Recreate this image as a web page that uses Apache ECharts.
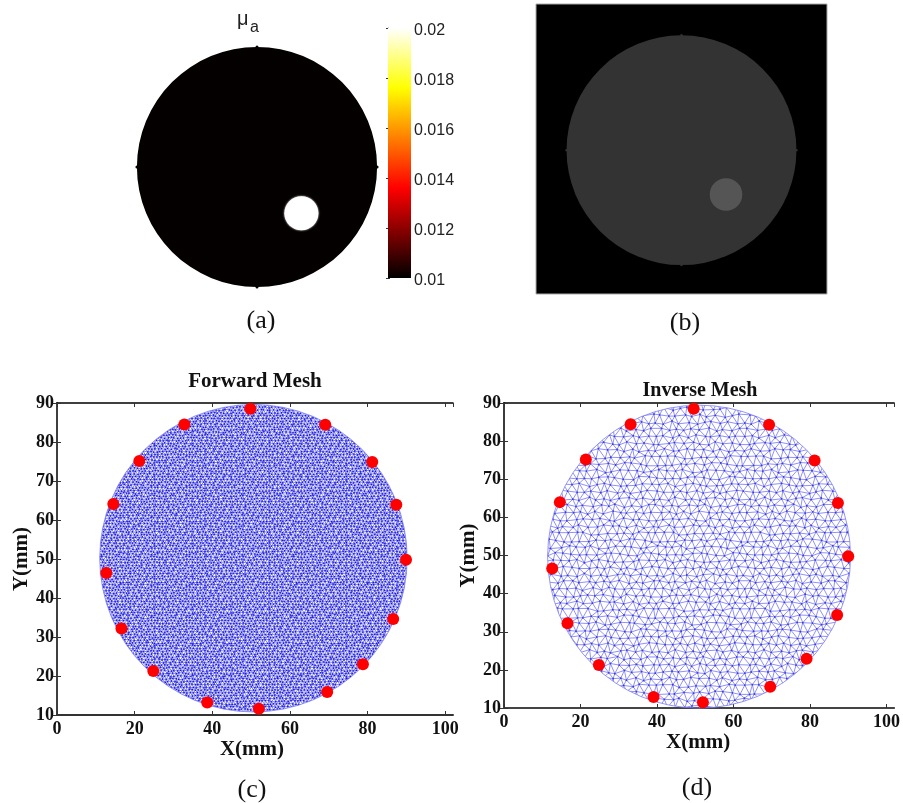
<!DOCTYPE html>
<html><head><meta charset="utf-8">
<style>html,body{margin:0;padding:0;background:#fff}#c{width:903px;height:803px}</style>
<script src="https://cdn.jsdelivr.net/npm/echarts@6/dist/echarts.min.js"></script>
</head><body><div id="c"></div>
<script>
// ---------- values (mm unless noted) ----------
const phantomDisc   = [50, 50, 39.5];     // cx, cy, r
const reconDisc     = [50, 49.6, 39.5];
const inclusionDisc = [64.6, 34.8, 5.6];
const reconInclusion= [65.3, 34.3, 5.6];
const forwardDisc   = [50.6, 50.2, 39.6];
const inverseDisc   = [51, 49.7, 39.6];
const absorption    = [0.01, 0.02];       // background, inclusion (mu_a)
const colorbarTicks = [0.01, 0.02, 0.002]; // min, max, step
const hotStops      = [[0,'#000000'],[0.36,'#ff0000'],[0.76,'#ffff00'],[1,'#ffffff']];
const reconGray     = ['#000000','#333333','#555555']; // frame, disc, inclusion
const sensorsForward = [[49.8,88.5],[69.1,84.4],[81.2,74.9],[87.4,63.9],[89.9,49.8],[86.6,34.6],[78.8,23],[69.6,15.9],[52,11.6],[38.7,13.2],[24.8,21.3],[16.6,32.2],[12.7,46.4],[14.5,64.1],[21.2,75.1],[32.8,84.5]];
const sensorsInverse = [[49.6,88.5],[69.3,84.3],[81.2,74.9],[87.3,63.8],[90,49.8],[87.1,34.4],[79.1,22.9],[69.6,15.6],[52,11.5],[39.1,12.9],[24.8,21.3],[16.6,32.2],[12.6,46.6],[14.6,64],[21.4,75.2],[33.1,84.4]];
const meshAxisX = [0, 102, 20];
const meshAxisY = [10, 90, 10];
const titleTexts = {a:'(a)', b:'(b)', c:'(c)', d:'(d)', fwd:'Forward Mesh', inv:'Inverse Mesh'};

// ---------- mesh look: a decorative fill texture, not measured data ----------
// The individual elements of the meshes cannot be read from the picture, so an
// irregular triangular texture suggests them. Digit tables perturb a lattice.
const jitterA = ['375162840627','618340275193','240786153862','853127604318','162548037265','704836215480','581203746152','326471580734','847015362608','130682457321','765314028176','428750613042'];
const jitterB = ['52617384025','07483162758','36250847116','81704526342','24168053774','65032718460','18745360221','73526014887','40861237503','56213780146','83047651230'];
function meshTexture(step, lineCol, lineW, nodeCol, nodeR, amp, blur){
  const cv = document.createElement('canvas'); cv.width = 903; cv.height = 803;
  const g = cv.getContext('2d');
  if (blur) g.filter = 'blur(' + blur + 'px)';
  const h = step * 0.866, nx = Math.ceil(903/step)+3, ny = Math.ceil(803/h)+3, P = [];
  for (let j=0;j<ny;j++){ P.push([]); for (let i=0;i<nx;i++){
    const a = +jitterA[j%12][i%12]-4, b = +jitterB[(j+5)%11][(i+3)%11]-4;
    P[j].push([(i-1+(j%2)/2)*step + a/4*amp*step, (j-1)*h + b/4*amp*step]);
  }}
  g.strokeStyle = lineCol; g.lineWidth = lineW; g.beginPath();
  const seg=(p,q)=>{g.moveTo(p[0],p[1]);g.lineTo(q[0],q[1]);};
  for (let j=0;j<ny;j++) for (let i=0;i<nx;i++){
    if (i+1<nx) seg(P[j][i],P[j][i+1]);
    if (j+1<ny){ const o=j%2; seg(P[j][i],P[j+1][i]); if(o? i+1<nx : i>0) seg(P[j][i],P[j+1][o?i+1:i-1]); }
  }
  g.stroke();
  g.fillStyle = nodeCol; g.beginPath();
  for (const r of P) for (const p of r){ g.moveTo(p[0]+nodeR,p[1]); g.arc(p[0],p[1],nodeR,0,6.3); }
  g.fill();
  return cv;
}
const fineMesh   = meshTexture(3.2, '#3838e8', 0.65, '#1414cc', 0.65, 0.22, 0.3);
const coarseMesh = meshTexture(8,   '#8484f4', 0.9, '#3a3ae0', 0.9, 0.2, 0.2);

// ---------- layout helpers ----------
const serif='"Liberation Serif"', sans='"Liberation Sans"';
const grids=[], xAxes=[], yAxes=[], series=[];
function addGrid(box, xa, ya){
  grids.push(Object.assign({containLabel:false}, box));
  const g=grids.length-1;
  xa.forEach(a=>{xAxes.push(Object.assign({gridIndex:g},a));});
  ya.forEach(a=>{yAxes.push(Object.assign({gridIndex:g},a));});
  return {g, x:xAxes.length-xa.length, y:yAxes.length-ya.length};
}
const hidden={type:'value',min:0,max:100,show:false};
function discSeries(ax, disc, fill, stroke, nub, extra){
  series.push({type:'custom',xAxisIndex:ax.x,yAxisIndex:ax.y,clip:false,silent:true,z:2,data:[disc],
    renderItem(_,api){
      const c=api.coord([api.value(0),api.value(1)]), r=api.size([api.value(2),0])[0];
      const kids=[{type:'circle',shape:{cx:c[0],cy:c[1],r},style:Object.assign({fill,stroke:stroke||null,lineWidth:stroke?0.8:0},extra||{})}];
      if(nub) [[0,-1],[0,1],[-1,0],[1,0]].forEach(d=>kids.push({type:'circle',shape:{cx:c[0]+d[0]*r,cy:c[1]+d[1]*r,r:nub},style:{fill}}));
      return {type:'group',children:kids};
    }});
}
function meshPanel(box, xr, yr, disc, tex, sensors, nameGapX, nameGapY, namePadX, leftCol, bottomCol){
  const lab={fontFamily:serif,fontWeight:'bold',fontSize:18,color:'#111',margin:3};
  const tick=(c)=>({show:true,inside:true,length:4,lineStyle:{color:c,width:1}});
  const ax=addGrid(box,[
    {type:'value',min:xr[0],max:xr[1],interval:xr[2],position:'bottom',splitLine:{show:false},
     axisLine:{lineStyle:{color:bottomCol,width:2}},axisTick:tick('#333'),
     axisLabel:Object.assign({},lab,{margin:5,showMaxLabel:false}),
     name:'X(mm)',nameLocation:'middle',nameGap:nameGapX,
     nameTextStyle:{fontFamily:serif,fontWeight:'bold',fontSize:21,color:'#111',padding:[0,namePadX,0,0]}},
    {type:'value',min:xr[0],max:xr[1],interval:xr[2],position:'top',splitLine:{show:false},
     axisLine:{lineStyle:{color:'#000',width:1.5}},axisTick:tick('#333'),axisLabel:{show:false}}
  ],[
    {type:'value',min:yr[0],max:yr[1],interval:yr[2],position:'left',splitLine:{show:false},
     axisLine:{lineStyle:{color:leftCol,width:2}},axisTick:tick('#333'),axisLabel:lab,
     name:'Y(mm)',nameLocation:'middle',nameGap:nameGapY,nameRotate:90,
     nameTextStyle:{fontFamily:serif,fontWeight:'bold',fontSize:21,color:'#111'}},
    {type:'value',min:yr[0],max:yr[1],interval:yr[2],position:'right',splitLine:{show:false},
     axisLine:{lineStyle:{color:'#333',width:1.5}},axisTick:tick('#333'),axisLabel:{show:false}}
  ]);
  discSeries(ax,disc,{image:tex,repeat:'repeat'},'#7c7cf0');
  series.push({type:'scatter',xAxisIndex:ax.x,yAxisIndex:ax.y,data:sensors,symbol:'circle',symbolSize:12,z:5,clip:false,silent:true,
    itemStyle:{color:'#ff0000',opacity:1}});
}

// (a) absorption map
const gA=addGrid({left:105,top:15,width:304,height:304},[hidden],[hidden]);
discSeries(gA,phantomDisc,'#050000',null,1.5);
discSeries(gA,inclusionDisc,'#ffffff',null,0,{shadowBlur:2,shadowColor:'#ffffff'});

// colour bar
const gBar=addGrid({left:388,top:28,width:23,height:250},
  [{type:'value',min:0,max:1,show:false}],
  [{type:'value',min:colorbarTicks[0],max:colorbarTicks[1],interval:colorbarTicks[2],position:'right',
    splitLine:{show:false},axisLine:{show:true,lineStyle:{color:'#777',width:1}},
    axisTick:{show:true,inside:true,length:2,lineStyle:{color:'#333'}},
    axisLabel:{fontFamily:sans,fontSize:16,color:'#222',margin:3,verticalAlign:'top',lineHeight:5,formatter:v=>String(+v.toFixed(3))}},
   {type:'value',min:colorbarTicks[0],max:colorbarTicks[1],interval:colorbarTicks[2],position:'left',
    splitLine:{show:false},axisLine:{show:false},axisLabel:{show:false},
    axisTick:{show:true,inside:true,length:2,lineStyle:{color:'#333'}}}]);
series.push({type:'custom',xAxisIndex:gBar.x,yAxisIndex:gBar.y,clip:false,silent:true,z:1,
  data:[[0,absorption[0],1,absorption[1]]],
  renderItem(_,api){
    const p=api.coord([api.value(0),api.value(3)]), q=api.coord([api.value(2),api.value(1)]);
    return {type:'rect',shape:{x:p[0],y:p[1],width:q[0]-p[0],height:q[1]-p[1]},
      style:{fill:new echarts.graphic.LinearGradient(0,1,0,0,hotStops.map(s=>({offset:s[0],color:s[1]})))}};
  }});

// (b) reconstruction image
const gB=addGrid({left:536,top:4,width:291,height:290,show:true,backgroundColor:reconGray[0],borderColor:'#aaaaaa',borderWidth:1},[hidden],[hidden]);
discSeries(gB,reconDisc,reconGray[1],null,1.2);
discSeries(gB,reconInclusion,reconGray[2]);

// (c), (d) meshes
meshPanel({left:57,top:403,width:396,height:312},meshAxisX,meshAxisY,forwardDisc,fineMesh,sensorsForward,22,25,6,'#666666','#333333');
meshPanel({left:504,top:403,width:391,height:305},meshAxisX,meshAxisY,inverseDisc,coarseMesh,sensorsInverse,22,19,2,'#555555','#444444');

const capt=(text,x,y)=>({text,left:x,top:y,textAlign:'center',textVerticalAlign:'top',padding:0,
  textStyle:{fontFamily:serif,fontSize:26,fontWeight:'normal',color:'#111'}});
const head=(text,x,y,s)=>({text,left:x,top:y,textAlign:'center',padding:0,
  textStyle:{fontFamily:serif,fontSize:s,fontWeight:'bold',color:'#111'}});
const option={
  animation:false,backgroundColor:'#ffffff',
  title:[
    {text:'\u03bc',left:237,top:9,padding:0,textStyle:{fontFamily:sans,fontSize:20,fontWeight:'normal',color:'#222'}},
    {text:'a',left:250,top:20,padding:0,textStyle:{fontFamily:sans,fontSize:16,fontWeight:'normal',color:'#222'}},
    capt(titleTexts.a,261,308),capt(titleTexts.b,685,310),capt(titleTexts.c,252,777),capt(titleTexts.d,697,775),
    head(titleTexts.fwd,255,371,21),head(titleTexts.inv,700,381,20)
  ],
  grid:grids,xAxis:xAxes,yAxis:yAxes,series
};
echarts.init(document.getElementById('c'),null,{renderer:'canvas'}).setOption(option);
</script></body></html>
